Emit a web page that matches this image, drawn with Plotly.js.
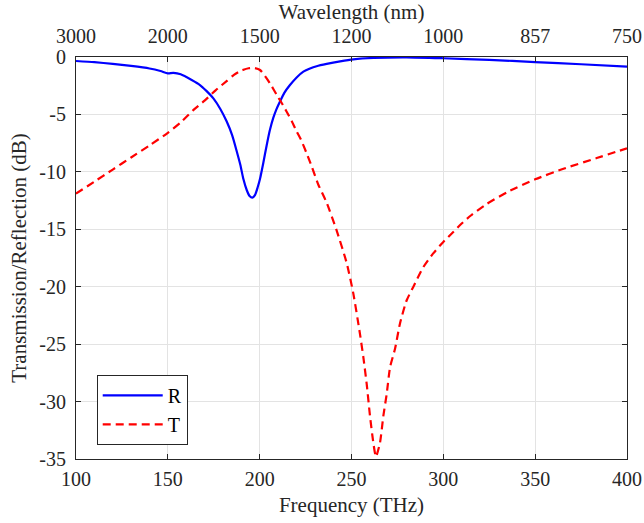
<!DOCTYPE html>
<html>
<head>
<meta charset="utf-8">
<script src="https://cdn.plot.ly/plotly-3.0.1.min.js"></script>
<style>html,body{margin:0;padding:0;background:#fff;}#chart{width:644px;height:523px;}</style>
</head>
<body>
<div id="chart"></div>
<script>
// Reflection (R)
const freqR = [100, 110, 120, 130, 140, 146, 150, 153, 157, 163, 167.5, 171, 174.8, 178.5, 182, 185, 187.5, 189.5, 191.1, 193, 194.5, 196, 197.5, 199, 200.2, 202, 203.8, 205.5, 207.4, 209, 211, 213.5, 216.5, 220, 223.8, 227.4, 231, 236.5, 243.8, 251, 262, 280, 300, 325, 350, 375, 400];
const valR  = [-0.35, -0.45, -0.6, -0.78, -1.0, -1.22, -1.42, -1.38, -1.5, -2.0, -2.44, -2.95, -3.6, -4.5, -5.6, -6.8, -8.2, -9.4, -10.6, -11.6, -12.1, -12.25, -12.0, -11.3, -10.6, -9.2, -7.7, -6.4, -5.3, -4.6, -3.9, -3.1, -2.44, -1.8, -1.28, -1.0, -0.8, -0.6, -0.38, -0.2, -0.08, -0.03, -0.11, -0.25, -0.44, -0.63, -0.84];

// Transmission (T)
const freqT = [100, 110, 120, 130, 140, 150, 157, 164, 170, 176, 182, 186, 190, 194, 197, 200.2, 203.8, 206, 209.3, 212, 214.7, 217.5, 220.2, 222.5, 225.6, 228.5, 231.9, 236.5, 241.9, 247.4, 251, 254.6, 256.5, 258.3, 260.1, 261.9, 263.3, 265.5, 267.3, 269.2, 271, 273.7, 276.4, 280, 283.7, 289.1, 294.5, 300, 305, 310, 315, 323.6, 335, 350, 365, 383.5, 400];
const valT  = [-11.9, -10.85, -9.8, -8.75, -7.7, -6.6, -5.7, -4.6, -3.8, -2.9, -2.1, -1.55, -1.18, -0.98, -0.96, -1.13, -1.86, -2.4, -3.3, -4.0, -4.76, -5.6, -6.5, -7.2, -8.4, -9.6, -11.1, -12.7, -15.1, -17.95, -20.6, -24.1, -26.2, -28.5, -31.3, -33.6, -34.8, -33.6, -31.3, -29.3, -27.0, -25.4, -23.2, -21.2, -20.0, -18.3, -17.1, -16.1, -15.3, -14.5, -13.8, -12.8, -11.75, -10.65, -9.75, -8.8, -7.95];

// Tick labels
const freqTicks = [100, 150, 200, 250, 300, 350, 400];
const wavelengthLabels = ['3000', '2000', '1500', '1200', '1000', '857', '750'];
const yTicks = [-35, -30, -25, -20, -15, -10, -5, 0];
const yTickLabels = ['-35', '-30', '-25', '-20', '-15', '-10', '-5', '0'];

const FONT = 'Liberation Serif, Times New Roman, serif';
const AX = '#262626';
const GRID = '#e3e3e3';
const TICK_SIZE = 20;
const TITLE_SIZE = 21;

const traces = [
  {x: freqR, y: valR, name: 'R', type: 'scatter', mode: 'lines',
   line: {color: '#0000ff', width: 2.2, shape: 'spline', smoothing: 0.6}},
  {x: freqT, y: valT, name: 'T', type: 'scatter', mode: 'lines',
   line: {color: '#ff0000', width: 2.2, dash: '8px,5px', shape: 'spline', smoothing: 0.6}},
  {x: [freqTicks[0]], y: [yTicks[0]], xaxis: 'x2', yaxis: 'y', mode: 'markers',
   marker: {opacity: 0}, showlegend: false, hoverinfo: 'skip'}
];

const layout = {
  width: 644, height: 523,
  margin: {l: 76, r: 17, t: 57, b: 64},
  paper_bgcolor: '#fff', plot_bgcolor: '#fff',
  font: {family: FONT, size: TICK_SIZE, color: AX},
  showlegend: true,
  legend: {x: 0.0376, y: 0.035, xanchor: 'left', yanchor: 'bottom',
           bgcolor: '#fff', bordercolor: AX, borderwidth: 1,
           font: {family: FONT, size: TICK_SIZE, color: '#000'}, itemwidth: 60,
           tracegroupgap: 0},
  xaxis: {
    range: [100, 400], tickvals: freqTicks, ticktext: freqTicks.map(String),
    ticks: 'inside', ticklen: 5, tickcolor: AX, showline: true, linecolor: AX, linewidth: 1,
    mirror: true, showgrid: true, gridcolor: GRID, zeroline: false,
    tickfont: {family: FONT, size: TICK_SIZE, color: AX}, ticklabelstandoff: 2,
    title: {text: 'Frequency (THz)', font: {family: FONT, size: TITLE_SIZE, color: AX}, standoff: 8}
  },
  xaxis2: {
    overlaying: 'x', side: 'top', range: [100, 400], tickvals: freqTicks, ticktext: wavelengthLabels,
    ticks: 'inside', ticklen: 5, tickcolor: AX, showline: false, showgrid: false, zeroline: false,
    tickfont: {family: FONT, size: TICK_SIZE, color: AX}, ticklabelstandoff: 9,
    title: {text: 'Wavelength (nm)', font: {family: FONT, size: TITLE_SIZE, color: AX}, standoff: 2}
  },
  yaxis: {
    range: [-35, 0], tickvals: yTicks, ticktext: yTickLabels,
    ticks: 'inside', ticklen: 5, tickcolor: AX, showline: true, linecolor: AX, linewidth: 1,
    mirror: 'ticks', showgrid: true, gridcolor: GRID, zeroline: false,
    tickfont: {family: FONT, size: TICK_SIZE, color: AX}, ticklabelstandoff: 5,
    title: {text: 'Transmission/Reflection (dB)', font: {family: FONT, size: TITLE_SIZE, color: AX}, standoff: 6}
  }
};

Plotly.newPlot('chart', traces, layout, {displayModeBar: false, staticPlot: true});
</script>
</body>
</html>
